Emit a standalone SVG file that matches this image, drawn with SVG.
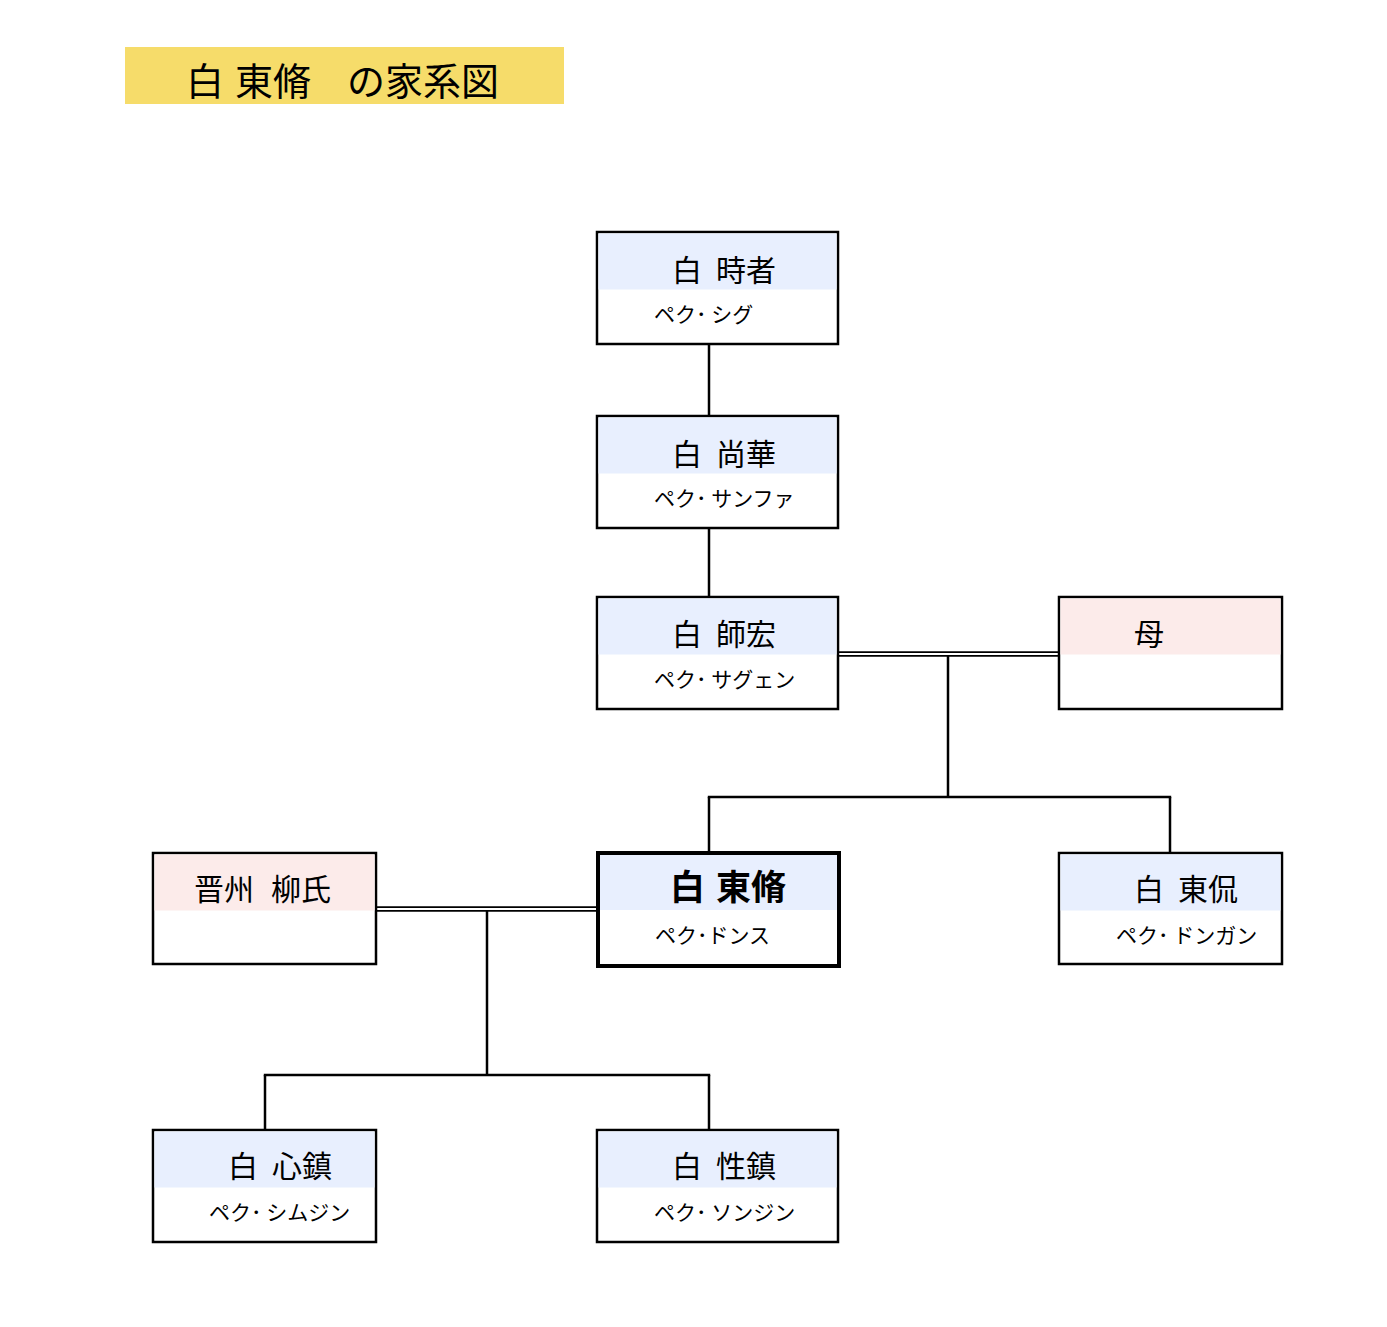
<svg xmlns="http://www.w3.org/2000/svg" width="1387" height="1327" viewBox="0 0 1387 1327">
<style>
text{font-family:"Noto Sans CJK JP","Noto Sans CJK SC",sans-serif;fill:#000}
.box{fill:#fff;stroke:#000;stroke-width:2.5}
.boxb{fill:#fff;stroke:#000;stroke-width:4}
.blue{fill:#e8effe}
.pink{fill:#fcebea}
.nm{font-size:30px}
.nmb{font-size:35px;font-weight:bold}
.sub{font-size:21px}
.ln{stroke:#000;stroke-width:2.5;fill:none}
.dbl{stroke:#000;stroke-width:5.5;fill:none}
.dblw{stroke:#fff;stroke-width:1.8;fill:none}
</style>
<rect width="1387" height="1327" fill="#fff"/>
<g id="title">
<rect x="125" y="47" width="439" height="57" fill="#f6dc6a"/>
<text y="95" font-size="38"><tspan x="186">白</tspan><tspan x="235">東脩</tspan><tspan x="347">の家系図</tspan></text>
</g>
<g id="connectors">
<line class="ln" x1="709" y1="344" x2="709" y2="416"/>
<line class="ln" x1="709" y1="528" x2="709" y2="597"/>
<line class="dbl" x1="838" y1="654" x2="1059" y2="654"/>
<line class="dblw" x1="838" y1="654" x2="1059" y2="654"/>
<line class="ln" x1="948" y1="656" x2="948" y2="797"/>
<line class="ln" x1="707.8" y1="797" x2="1171.2" y2="797"/>
<line class="ln" x1="709" y1="797" x2="709" y2="853"/>
<line class="ln" x1="1170" y1="797" x2="1170" y2="853"/>
<line class="dbl" x1="376" y1="909" x2="598" y2="909"/>
<line class="dblw" x1="376" y1="909" x2="598" y2="909"/>
<line class="ln" x1="487" y1="911" x2="487" y2="1075"/>
<line class="ln" x1="263.8" y1="1075" x2="710.2" y2="1075"/>
<line class="ln" x1="265" y1="1075" x2="265" y2="1130"/>
<line class="ln" x1="709" y1="1075" x2="709" y2="1130"/>
</g>
<g id="node-sigu">
<rect class="box" x="597" y="232" width="241" height="112"/>
<rect class="blue" x="598.5" y="233.5" width="238" height="56"/>
<text class="nm" y="281"><tspan x="672">白</tspan><tspan x="716">時者</tspan></text>
<text class="sub" x="654" y="322">ペク･ シグ</text>
</g>
<g id="node-sanghwa">
<rect class="box" x="597" y="416" width="241" height="112"/>
<rect class="blue" x="598.5" y="417.5" width="238" height="56"/>
<text class="nm" y="465"><tspan x="672">白</tspan><tspan x="716">尚華</tspan></text>
<text class="sub" x="654" y="506">ペク･ サンファ</text>
</g>
<g id="node-sahong">
<rect class="box" x="597" y="597" width="241" height="112"/>
<rect class="blue" x="598.5" y="598.5" width="238" height="56"/>
<text class="nm" y="645"><tspan x="672">白</tspan><tspan x="716">師宏</tspan></text>
<text class="sub" x="654" y="687">ペク･ サグェン</text>
</g>
<g id="node-mother">
<rect class="box" x="1059" y="597" width="223" height="112"/>
<rect class="pink" x="1060.5" y="598.5" width="220" height="56"/>
<text class="nm" x="1134" y="645">母</text>
</g>
<g id="node-dongsu">
<rect class="boxb" x="598" y="853" width="241" height="113"/>
<rect class="blue" x="600" y="855" width="237" height="55"/>
<text class="nmb" y="900"><tspan x="670">白</tspan><tspan x="716">東脩</tspan></text>
<text class="sub" x="655" y="943">ペク･ドンス</text>
</g>
<g id="node-donggan">
<rect class="box" x="1059" y="853" width="223" height="111"/>
<rect class="blue" x="1060.5" y="854.5" width="220" height="56"/>
<text class="nm" y="900"><tspan x="1134">白</tspan><tspan x="1178">東侃</tspan></text>
<text class="sub" x="1116" y="943">ペク･ ドンガン</text>
</g>
<g id="node-yu">
<rect class="box" x="153" y="853" width="223" height="111"/>
<rect class="pink" x="154.5" y="854.5" width="220" height="56"/>
<text class="nm" y="900"><tspan x="194">晋州</tspan><tspan x="271">柳氏</tspan></text>
</g>
<g id="node-simjin">
<rect class="box" x="153" y="1130" width="223" height="112"/>
<rect class="blue" x="154.5" y="1131.5" width="220" height="56"/>
<text class="nm" y="1177"><tspan x="228">白</tspan><tspan x="272">心鎮</tspan></text>
<text class="sub" x="209" y="1220">ペク･ シムジン</text>
</g>
<g id="node-seongjin">
<rect class="box" x="597" y="1130" width="241" height="112"/>
<rect class="blue" x="598.5" y="1131.5" width="238" height="56"/>
<text class="nm" y="1177"><tspan x="672">白</tspan><tspan x="716">性鎮</tspan></text>
<text class="sub" x="654" y="1220">ペク･ ソンジン</text>
</g>
</svg>
